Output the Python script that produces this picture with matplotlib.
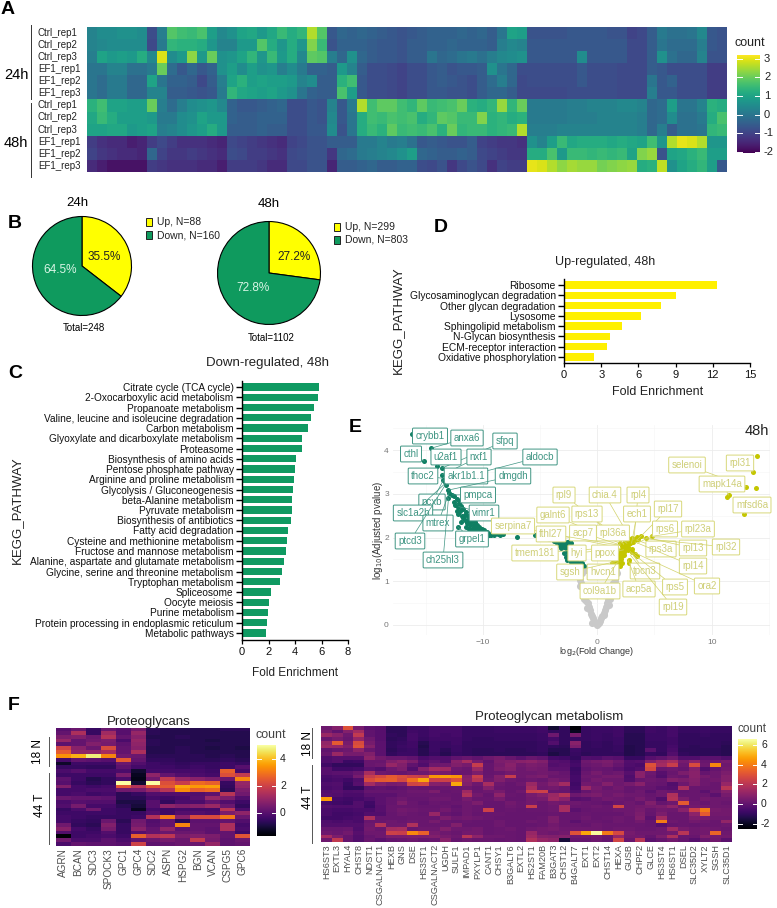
import numpy as np
import matplotlib
matplotlib.use('Agg')
import matplotlib.pyplot as plt
from matplotlib.patches import Rectangle

plt.rcParams['font.family'] = ['Liberation Sans', 'DejaVu Sans']
W, H = 777, 908

# ---------- Panel A ----------
sample_labels = ['Ctrl_rep1', 'Ctrl_rep2', 'Ctrl_rep3', 'EF1_rep1', 'EF1_rep2', 'EF1_rep3',
                 'Ctrl_rep1', 'Ctrl_rep2', 'Ctrl_rep3', 'EF1_rep1', 'EF1_rep2', 'EF1_rep3']
heat_a = [
 [.3,.5,.5,.6,.6,.5,-.8,.2,1.8,1.6,1.5,1.7,.9,.4,.6,1.0,1.1,.8,1.1,1.5,1.2,1.4,2.6,1.8,-.6,-.3,-.4,-.3,-.4,-.5,-.6,-.7,
  -.6,-.5,-.4,-.4,-.4,-.3,-.4,-.3,-.5,0,1.0,.9,-.7,-.7,-.7,-.7,-.6,-.6,-.6,-.6,-.7,-.7,-1.0,-.9,-.5,.1,-.1,-.1,0,.4,-.6,-.7],
 [.3,.4,.5,.5,.5,.5,-.9,.1,1.4,1.3,1.3,1.2,.7,.3,.3,.8,.8,1.8,1.2,.7,1.2,.7,2.2,1.5,-.7,-.4,-.4,-.4,-.5,-.6,-.6,-.7,
  -.5,-.5,-.4,-.4,-.3,-.4,-.4,-.4,-.5,.2,.4,.3,-.6,-.6,-.6,-.6,-.6,-.6,-.6,-.6,-.6,-.6,-.9,-.9,-.5,0,-.2,-.2,-.2,.2,-.6,-.7],
 [.2,1.0,.8,.9,.8,1.2,.4,2.9,.5,.8,2.3,.8,2.0,.6,.7,1.0,1.4,.7,1.5,.8,1.2,.4,1.9,1.8,.2,-.3,.6,-.3,-.5,-.6,-.6,-.7,
  -.5,-.5,0,-.3,-.2,0,.1,-.1,.2,.4,.5,.6,-.6,-.6,-.6,-.6,-.6,.5,-.6,-.6,-.6,-.6,-.9,-.9,-.5,.6,-.1,-.3,-.3,.3,-.7,-.7],
 [0,0,.3,.3,-.1,-.1,.1,2.0,-.2,-.6,-.3,-.6,-.4,.6,.9,.5,.9,.6,.7,.2,.5,.1,-.4,-.4,-.5,.8,.3,-.5,-.8,-.8,-.9,-1.0,
  -.8,-.8,-.6,-.5,-.7,-.6,-.6,-.5,.6,0,-.3,-.8,-.8,-.8,-.8,-.8,-.8,-.6,-.8,-.8,-.8,-.9,-.9,-.9,-.5,-.6,-.8,-.8,-.8,-.8,-1.1,-1.1],
 [0,-.2,.1,.1,-.3,-.3,1.0,0,-.4,-.4,-.5,-.9,-.5,.2,1.0,1.3,.9,1.0,.9,.9,.8,.3,.5,-.5,-.5,1.3,1.6,-.6,-.8,-.8,-.9,-1.0,
  -.8,-.8,-.6,-.5,-.6,-.7,-.8,-.5,-.2,.2,-.3,-.9,-.8,-.8,-.8,-.8,-.8,-.6,-.8,-.8,-.8,-.9,-.9,-.9,0,-.6,-.4,-.8,-.8,-.8,-1.1,-1.1],
 [0,-.2,.1,.1,-.3,-.3,.3,.3,-.5,-.5,-.6,-.7,-.6,.1,1.4,1.1,1.0,.9,1.0,.8,.6,0,-.4,-.5,-.5,1.7,.9,-.6,-.8,-.8,-.9,-1.0,
  -.8,-.8,-.6,-.6,-.7,-.7,-.8,-.5,-.3,-.3,-.5,-.9,-.9,-.9,-.9,-.9,-.8,-.8,-.8,-.8,-.8,-.9,-.9,-.9,.2,-.6,-.6,-.8,-.8,-.8,-1.1,-1.1],
 [1.3,1.6,1.0,1.0,.9,.9,2.0,.2,-.2,.2,.5,.6,.7,.4,-.4,-.6,-.6,-.5,-.4,-.3,-.8,-.8,-.6,-.7,.3,-.6,.1,2.6,1.6,1.9,1.9,1.6,
  1.4,1.9,1.5,1.6,1.7,2.0,1.3,1.2,1.4,2.4,1.4,2.0,.1,.1,.1,.1,.2,.2,.3,.3,.3,.4,.4,.3,-.3,-.2,.9,0,0,.3,1.3,1.2],
 [1.1,1.5,1.2,.9,.9,.9,.8,.1,.1,.5,.6,1.0,.8,.8,-.4,-.5,-.5,-.4,-.4,-.4,-.8,-.8,-.6,-.7,.4,-.6,0,1.2,1.6,1.5,1.7,1.6,
  1.7,1.2,1.4,1.9,1.8,1.5,1.5,2.2,1.3,1.4,1.2,1.3,.1,.1,.1,.1,.2,.2,.2,.3,.3,.3,.3,.2,-.3,-.2,.5,-.1,-.1,.1,1.2,1.7],
 [1.0,1.0,1.1,1.1,.8,.9,1.0,.2,.3,.5,.7,.9,1.2,.8,-.5,-.5,-.5,-.4,-.5,-.5,-.8,-.8,-.6,-.6,.5,-.7,0,1.2,1.5,1.3,1.9,1.5,
  1.6,1.5,1.7,1.3,2.0,1.4,1.5,1.5,1.3,1.4,1.5,2.6,.2,.2,.2,.3,.3,.3,.3,.3,.3,.3,.3,.2,-.3,.2,-.5,-.1,-.1,0,1.4,1.5],
 [-1.1,-1.3,-1.4,-1.4,-1.6,-1.5,-1.1,-.9,-1.1,-1.3,-1.3,-1.3,-1.4,-1.5,-.9,-1.0,-1.1,-1.2,-1.3,-1.4,-1.0,-.9,-.7,-.7,-.5,-.5,-.5,.1,.1,.3,.1,.2,
  -.1,-.6,-.5,-.6,-.7,-.7,-.5,-1.0,-1.1,-1.2,-1.2,-1.3,.6,.3,.9,1.5,1.1,1.2,1.2,1.2,1.1,1.2,1.1,1.0,1.6,.7,2.6,3.0,2.9,2.6,.7,.7],
 [-1.0,-1.2,-1.3,-1.4,-1.4,-1.5,-.3,-1.0,-1.2,-1.2,-1.1,-1.2,-1.3,-1.4,-.8,-.9,-1.1,-1.1,-1.2,-1.3,-.9,-.8,-.7,-.7,-1.2,-.3,-.2,.1,.2,.3,.4,.6,
  .9,-.3,-.4,-.5,-.5,-.4,-.5,-.9,-1.0,-1.1,-1.2,-1.2,1.2,1.2,1.7,.8,1.5,1.5,1.4,1.5,1.4,1.5,1.0,2.2,2.4,-.7,1.0,1.1,1.3,1.5,.9,.9],
 [-1.4,-1.6,-1.8,-1.8,-1.8,-1.8,-1.1,-1.2,-1.3,-1.3,-1.3,-1.4,-1.4,-1.6,-1.1,-1.1,-1.1,-1.2,-1.4,-1.4,-.9,-.9,-.7,-.7,-1.5,-.5,-.5,-.4,-.3,-.5,-.5,-.4,
  -.4,-.8,-.9,-.7,-1.2,-.9,-.7,-.9,-1.3,-1.0,-1.1,-1.1,3.0,2.9,2.6,2.3,2.5,2.4,2.4,2.1,2.2,2.3,2.4,1.2,1.3,2.7,.6,1.0,1.2,1.4,.9,-.6],
]

# ---------- Panel B ----------
pie_24h = [88, 160]
pie_48h = [299, 803]
pie_24h_labels = ['35.5%', '64.5%']
pie_48h_labels = ['27.2%', '72.8%']

# ---------- Panel C ----------
down_pathways = ['Citrate cycle (TCA cycle)', '2-Oxocarboxylic acid metabolism', 'Propanoate metabolism',
    'Valine, leucine and isoleucine degradation', 'Carbon metabolism', 'Glyoxylate and dicarboxylate metabolism',
    'Proteasome', 'Biosynthesis of amino acids', 'Pentose phosphate pathway', 'Arginine and proline metabolism',
    'Glycolysis / Gluconeogenesis', 'beta-Alanine metabolism', 'Pyruvate metabolism', 'Biosynthesis of antibiotics',
    'Fatty acid degradation', 'Cysteine and methionine metabolism', 'Fructose and mannose metabolism',
    'Alanine, aspartate and glutamate metabolism', 'Glycine, serine and threonine metabolism', 'Tryptophan metabolism',
    'Spliceosome', 'Oocyte meiosis', 'Purine metabolism', 'Protein processing in endoplasmic reticulum', 'Metabolic pathways']
down_fold = [5.8, 5.7, 5.4, 5.2, 5.0, 4.5, 4.5, 4.1, 4.0, 3.9, 3.85, 3.8, 3.75, 3.7, 3.5, 3.4, 3.3, 3.15, 3.0, 2.9,
             2.2, 2.0, 1.95, 1.9, 1.8]

# ---------- Panel D ----------
up_pathways = ['Ribosome', 'Glycosaminoglycan degradation', 'Other glycan degradation', 'Lysosome',
               'Sphingolipid metabolism', 'N-Glycan biosynthesis', 'ECM-receptor interaction', 'Oxidative phosphorylation']
up_fold = [12.3, 9.0, 7.8, 6.2, 4.7, 3.7, 3.5, 2.4]

# ---------- Panel E ----------
grey_lfc = [0,-.25,-.45,-.65,-.85,-1.05,-1.2,-1.4,-1.6,-1.8,-1.3,-1.0,-.5,-.9,-1.15,-1.5,
            .25,.45,.65,.85,1.05,1.2,1.35,1.5,1.2,1.7,.6,1.0,1.1,1.45,
            -1.7,-1.5,-1.25,-1.1,-.95,-.75,-.55,-.35,-.15,.15,.35,.55,.75,.95,1.15,1.3,1.55,1.6,-1.55,-1.2]
grey_p = [0,.1,.2,.35,.5,.65,.8,.95,1.1,1.25,1.2,1.25,.05,.38,.6,.9,
          .1,.2,.35,.5,.65,.8,.95,1.1,1.3,1.2,.22,.45,.6,.85,
          1.15,1.02,.88,.72,.55,.42,.25,.15,.05,.05,.15,.28,.42,.58,.75,.9,1.0,1.25,1.3,1.3]
down_lfc = [-16.2,-14.5,-15.1,-14.0,-13.6,-13.55,-13.45,-13.3,-13.25,-13.0,-12.95,-12.65,-13.0,-12.2,-7.0,-5.4,
            -12.5,-12.3,-12.1,-12.4,-11.9,-12.0,-11.7,-11.5,-11.8,-11.3,-11.6,-11.1,-11.4,-10.9,-11.1,-10.7,-10.9,-10.5,
            -10.7,-10.3,-10.5,-10.1,-10.2,-9.9,-9.9,-9.6,-9.5,-9.2,-9.0,-8.7,-8.5,-8.2,-11.2,-10.8,-10.4,-12.2,-11.6,
            -11.5,-11.2,-11.0,-10.8,-10.6,-10.4,-11.3,-11.0,-10.6,-10.2,-10.0,-9.7,-9.3,-12.0,-12.25,-11.7,-12.5,-12.2,-11.9,
            -4.2,-3.8,-3.35,-2.6,-2.3,-3.05,-2.77,-2.62,-3.2,-2.9,-2.77,-2.62,-2.33,-1.75,-1.31,-1.16,-2.0,-1.5,-3.5,-3.0,-2.8,-2.5,-2.9,
            -3.6,-3.2,-2.4,-2.7,-3.3,-2.5,-2.4,-2.1,-1.9,-1.6,-1.3,-2.2,-2.6]
down_p = [4.37,4.05,3.75,3.64,3.59,3.44,3.32,3.28,3.2,3.09,3.02,2.98,2.9,2.25,2.02,2.05,
          2.95,2.88,2.8,2.75,2.72,2.62,2.65,2.58,2.5,2.5,2.4,2.45,2.33,2.4,2.28,2.35,2.22,2.3,
          2.18,2.25,2.13,2.2,2.1,2.17,2.08,2.14,2.07,2.1,2.05,2.08,2.06,2.08,2.38,2.3,2.2,2.7,2.52,
          2.25,2.2,2.15,2.1,2.12,2.08,2.4,2.35,2.25,2.18,2.12,2.1,2.05,2.85,2.6,2.45,2.82,2.55,2.35,
          1.96,1.93,1.89,1.91,1.87,1.83,1.76,1.68,1.76,1.64,1.56,1.49,1.45,1.45,1.43,1.34,1.45,1.42,1.88,1.9,1.85,1.82,1.78,
          1.92,1.93,1.92,1.88,1.82,1.75,1.55,1.5,1.42,1.38,1.36,1.4,1.55]
up_lfc = [1.3,1.6,1.9,1.5,1.8,2.1,2.0,2.3,2.1,2.4,2.5,2.2,2.7,2.4,2.8,2.6,3.0,3.2,3.5,3.8,2.0,1.75,2.25,2.65,2.9,
          1.4,1.7,2.0,2.2,1.65,1.95,2.2,2.05,2.35,2.3,2.6,2.55,2.85,2.75,3.0,3.3,3.1,3.6,2.45,2.65,
          4.3,4.8,2.77,2.77,3.05,3.3,3.5,3.0,
          13.97,13.6,13.0,13.9,11.5,11.3,12.85]
up_p = [1.42,1.4,1.42,1.5,1.52,1.5,1.62,1.6,1.72,1.72,1.82,1.8,1.85,1.9,1.92,1.98,1.95,1.98,2.02,2.03,1.88,1.55,1.68,1.78,1.88,
        1.36,1.35,1.36,1.42,1.46,1.55,1.58,1.68,1.66,1.78,1.78,1.88,1.88,1.98,2.0,1.95,1.9,1.98,1.98,1.72,
        2.0,2.03,1.49,1.42,1.68,1.62,1.58,1.75,
        3.86,3.5,3.17,3.14,2.97,2.92,2.55]
down_genes = ['crybb1','anxa6','sfpq','cthl','u2af1','nxf1','aldocb','thoc2','akr1b1.1','dmgdh','pmpca','pcxb',
              'slc1a2b','vimr1','mtrex','ptcd3','grpel1','ch25hl3']
down_gene_lfc = [-16.2,-14.5,-13.6,-15.1,-14.0,-13.55,-13.3,-13.5,-13.25,-13.0,-12.65,-13.45,-13.25,-12.1,-12.95,-13.3,-12.2,-13.0]
down_gene_p = [4.37,4.05,3.59,3.75,3.64,3.44,3.28,3.36,3.2,3.09,2.98,3.32,3.25,2.71,3.02,3.2,2.25,2.9]
up_genes = ['selenoi','rpl31','mapk14a','mfsd6a','rpl9','chia.4','rpl4','rpl17','galnt6','rps13','ech1','serpina7',
            'rps6','rpl23a','rpl36a','acp7','fthl27','rps3a','rpl13','rpl32','tmem181','hyi','ppox','rpl14','hvcn1',
            'sgsh','tpcn3','ora2','acp5a','rps5','col9a1b','rpl19']
up_gene_lfc = [13.0,13.6,11.5,12.85,2.04,2.8,3.2,3.5,2.0,2.2,3.0,1.75,3.5,4.8,2.6,2.05,1.9,3.4,4.3,4.0,1.9,2.0,2.3,3.3,1.9,
               1.6,2.9,3.3,2.7,3.05,1.7,2.9]
up_gene_p = [3.17,3.5,2.97,2.55,1.95,2.02,1.95,1.95,1.87,1.87,1.87,1.78,1.87,2.03,1.87,1.83,1.83,1.95,2.0,1.98,1.78,1.75,1.72,1.9,1.45,
             1.45,1.68,1.65,1.49,1.65,1.42,1.6]

# label box centres in figure pixels (layout only)
down_label_px = [(430,436),(467,438),(505,441),(411,454),(446,457),(479,457),(540,457),(423,476),(466,476),(513,476),
                 (478,495),(432,502),(413,513),(484,513),(438,523),(410,541),(472,539),(443,560)]
up_label_px = [(687,465),(740,463),(722,484),(752,505),(564,495),(605,495),(638,495),(668,509),(553,515),(587,514),(637,514),
               (513,526),(665,529),(698,529),(613,533),(583,533),(551,534),(661,549),(693,548),(726,547),(535,553),(577,553),
               (605,553),(693,566),(603,572),(570,572),(645,571),(707,586),(639,589),(675,587),(600,591),(673,607)]

# ---------- Panel F ----------
proteoglycan_genes = ['AGRN','BCAN','SDC3','SPOCK3','GPC1','GPC4','SDC2','ASPN','HSPG2','BGN','VCAN','CSPG5','GPC6']
heat_f1 = [
 [0,.3,-.5,.3,0,.5,-.7,-.8,-.8,-.8,-.8,-.7,-.7],
 [.2,1.4,-.5,1.2,0,1.0,-.7,-.8,-.8,-.8,-.8,-.8,-.8],
 [.6,.7,.3,1.5,.2,.8,-.8,-.8,-.7,-.8,-.8,-.8,-.8],
 [1.0,.2,.4,.6,-.2,1.0,-.7,-.8,-.8,-.8,-.9,-.8,-.8],
 [.1,.2,.7,.5,.1,.9,-.7,-.8,-.8,-.8,-.8,-.8,-.8],
 [2.0,.8,.3,2.2,.2,.8,-.8,-.8,-.7,-.8,-.9,-.8,-.9],
 [2.5,.9,.9,1.3,.2,1.4,-.8,-.8,-.7,-.8,-.8,-.8,-.8],
 [3.4,3.8,4.7,3.2,.4,.3,-.7,-.7,-.7,-.7,-.8,-.7,-.8],
 [-.3,.2,.1,0,2.5,.2,-.6,-.6,-.7,-.7,-.7,-.6,-.7],
 [-1.2,-.4,-.4,-.4,.3,-.1,-.4,-.5,-.6,-.5,-.5,-.4,-.5],
 [-.5,-.5,-.6,-.6,.1,-.3,-.4,-.4,-.5,-.4,-.5,-.4,0],
 [-.2,0,-.3,-.3,-.2,-1.1,-.3,-.3,-.3,-.3,-.4,2.6,-.3],
 [-.4,-.4,-.4,-.4,.6,-1.3,.9,.2,-.1,-.2,-.3,2.3,1.8],
 [.1,-.4,-.8,-.6,-.2,-1.4,.4,1.8,1.0,.8,.6,.3,3.2],
 [0,-.5,-.7,-.6,5,-1.1,5,2.3,1.9,2.8,2.6,-.5,1.0],
 [.7,-.3,-.4,-.3,2.4,1.5,2.4,2.5,3.7,3.5,3.6,-.6,.9],
 [-.3,-.3,-.2,-.2,.4,.5,1.0,1.6,3.3,2.6,2.8,-.7,.6],
 [-.3,-.2,-.4,-.3,-.7,-.5,-.1,-.1,-.1,-.1,.1,1.6,.4],
 [.3,.2,.2,.1,-.7,-.7,-.3,-.4,-.3,0,1.0,.6,-.1],
 [-.2,0,-.1,-.1,-.9,-.9,0,-.6,-.2,-.2,.2,-.1,-.4],
 [-.1,.5,-.3,-.3,-.7,-1.0,0,.9,.7,.8,1.1,.3,-.6],
 [-.5,-.2,.4,-.4,-.5,-1.3,-.3,-.4,-.3,-.3,-.3,1.6,-.2],
 [-.4,-.4,-.4,-.4,-.5,-.5,-.1,-.4,-.1,-.1,-.2,.6,.9],
 [-.3,-.4,-.5,-.5,-.5,-.4,1.5,3.0,.8,2.2,2.2,3.0,.3],
 [-.3,-.5,-.6,.3,-.7,.4,-.1,.2,-.7,.1,.1,.2,-.1],
 [.4,-.6,-.7,.7,-.5,.5,0,.2,3.2,.2,.2,1.4,-.3],
 [.8,-.3,-.5,.5,-.5,.8,.2,.9,.1,.2,.1,1.4,-.2],
 [-.1,-.4,-.4,-.1,-.5,0,.2,.3,.3,.3,.1,.2,-.4],
 [-1.6,-.4,-.3,-.2,-.4,2.6,1.5,1.7,.6,.7,.6,.2,2.4],
 [.4,-.2,-.2,.1,-.2,.2,.3,.5,.3,1.8,.5,.1,.3],
 [-.2,.2,.1,.1,0,2.0,.1,.2,.3,.3,1.0,.1,.2],
]
metabolism_genes = ['HS6ST3','EXTL3','HYAL4','CHST8','NDST1','CSGALNACT1','HEXB','GNS','DSE','HS3ST1','CSGALNACT2','UGDH',
    'SULF1','IMPAD1','PXYLP1','CANT1','CHSY1','B3GALT6','EXTL2','HS2ST1','FAM20B','B3GAT3','CHST12','B4GALT7','EXT1','EXT2',
    'CHST14','HEXA','GUSB','CHPF2','GLCE','HS3ST4','HS6ST1','DSEL','SLC35D2','XYLT2','SGSH','SLC35D1']
heat_f2 = [
 [.3,.8,3.0,.5,-.1,-.2,-1.1,-1.1,-.8,-.8,-.6,-.6,-.6,-.9,-.9,-.9,-.8,-.8,-.8, -.8,-.7,-1.7,-1,-2.4,-.9,-.8,-.8,-.7,-1.1,-1.1,-.7,-.8,-.6,-.9,-.9,-.8,-.9,-.9],
 [.5,0,.8,1.5,0,-.2,-1.1,-1.1,-.7,-.8,-.6,-.6,-.6,-.9,-.9,-.9,-.8,-.8,-.8, -.8,-.7,-1.0,-1,-2.0,-.9,-.8,-.8,-.7,-1.1,-1.1,-.7,-.8,-.6,-.9,-.9,-.8,-.9,-.9],
 [1.3,.9,.3,2.2,0,-.2,-1.0,-1.1,-.6,-.8,-.6,-.7,-.6,-.9,-.9,-.9,-.9,-.9,-.9, -.9,-.8,.3,-1,.5,-.9,-.8,-.9,-.7,-1.2,-1.2,-.8,-.8,-.6,-1,-1,-.9,-1,-1],
 [.2,.5,.2,1.2,.3,-.2,-1.1,-1.0,-.6,-.9,-.7,-.7,-.7,-.9,-1,-1,-.9,-.9,-.9, -.9,-.8,-.6,-1,-.9,-.9,-.8,-.9,-.8,-1.2,-1.2,-.8,-.8,-.7,-1,-1,-1,-1,-1],
 [1.1,3.2,.5,2.8,.5,-.1,-1.0,-.9,-.7,-1.2,-.8,-.9,-.7,-1,-1,-1,-1,-1,-1, -1,-.9,-.3,-1,.9,-1,-.9,-1,-.8,-1.2,-1.2,-.9,-.9,-.7,-1,-1,-1,-1,-1.1],
 [1.3,1.2,.7,3.0,.8,-.1,-1,-.8,-.7,-1.3,-.8,-.9,-.8,-1,-1,-1,-1,-1,-1, -1,-.9,-1,-1.1,.6,-1,-.9,-1,-.9,-1.3,-1.2,-.9,-.9,-.6,-1,-1.1,-1,-1,-1.2],
 [0,.2,.3,1,.2,-.1,-1.1,-.9,-.8,-1.2,-.8,-1.1,-.8,-1,-1.1,-1.1,-1,-1.1,-1.1, -1,-.9,-1.2,-1.2,-.8,-1,-1,-1,-.9,-1.3,-1.2,-.1,-.9,-.5,-1.1,-1.1,-1.1,-1.1,-1.2],
 [.2,1.3,.5,.5,.7,-.1,-1,-.8,-.8,-1.2,-.9,-1.2,-.9,-1,-1.1,-1.1,-1.1,-1.1,-1.1, -1.1,-1,-1.4,-1.2,-.9,-1.1,-1,-1,-1,-1.3,-1.2,-.9,-1,-.3,-1,-1.1,-1.1,-1.1,-1.2],
 [-.4,-.2,-.2,-.2,1.0,.4,.2,.2,0,-.5,-.3,-.3,0,.2,0,.3,.5,.2,-.1, .2,0,-.6,-.7,-1,-.3,-.4,-.1,-.2,-.9,-.9,-.2,0,.3,-.3,-.3,-.1,-.1,-.3],
 [-.4,-.2,-.8,-.7,.2,.2,.7,1.0,.6,-.2,0,-.3,.9,1.6,.5,0,.6,.7,.9, 1.0,.7,-.2,-.3,-.7,.3,.5,.6,.3,-.3,-.2,.8,1.3,1.6,.5,1,.2,.3,.5],
 [-.7,-1,-1,-1,.2,.3,1.2,.7,0,-.4,.3,.3,.7,.5,2.3,.1,.5,.9,.4, .6,.5,-.3,-.2,-.6,.2,.3,.5,.1,-.4,-.5,3.0,1.5,2.4,.3,2.8,.3,4.2,.3],
 [-.2,-.7,-.7,-.6,-.1,-.3,.3,.6,-.3,.8,1.5,1.4,.3,.2,1.3,.1,.6,.8,.3, .5,.4,-.1,-.1,-.8,0,.2,.1,-.1,-.5,-.3,2.7,.2,.3,.1,.8,-.3,.1,.4],
 [-.2,-.1,-.1,.2,1.6,.3,.2,.1,.3,.3,.6,.5,.2,.2,.6,.1,.2,.4,.3, .3,.4,.3,.1,-.7,.2,.5,.2,.3,-.2,.9,.3,-.2,.2,.6,.9,.1,.3,.6],
 [-.5,-.4,-.3,.5,2.3,2.7,3.2,2.9,2.5,2.3,4.5,4.7,4.5,.8,2.4,.2,.8,2.3,.3, .5,.6,.2,.2,-.6,.3,.3,.5,.5,-.4,.9,.2,-.3,.3,.2,.9,.5,.3,.8],
 [-.6,-.5,-.7,-.3,2.8,3.2,3.3,2.7,3.7,4.8,2.4,2.5,3.0,.9,2.0,.3,.7,.3,.2, .3,.2,.5,.3,-.6,.2,.5,.3,.3,-.3,.2,.3,.2,.8,.6,.8,.3,.4,.8],
 [-.4,-.3,-.9,-.2,1.5,.8,.5,.6,2.6,2.7,.8,.7,4.8,.7,.3,1.6,.3,.1,.3, 1.3,.4,.8,1.5,-.7,.4,.3,.8,.3,.5,.9,.2,.1,-.3,.3,.7,.3,.2,1.2],
 [-.5,-.4,-1.0,-1.0,-.1,0,-.1,0,.2,.1,.1,.2,.2,.3,.1,.8,.2,.1,.1, 1.6,.3,.4,.2,-.6,1.3,.5,.2,.4,.1,.2,.1,-.1,-.2,1.7,.2,.2,.2,2.0],
 [-.3,-.2,-.4,-.3,.1,.1,.1,.1,.3,.3,.6,.1,.2,1.4,.2,.3,.5,.1,.3, 2.4,2.5,.2,.1,-.4,.1,.4,.3,.3,.1,.3,-.1,.3,.2,.1,.2,-.1,.3,.8],
 [-.2,-.3,-.5,-.5,-.1,-.1,-.1,.1,.2,.2,.2,.2,.1,1.8,.4,.1,1.0,.2,.1, .5,.8,1.3,1.9,.3,.5,.6,.3,.5,.3,.3,.1,.3,1.8,.2,.2,.2,-.1,.5],
 [4.6,-.6,-.7,-.6,-.4,-.1,.1,.3,.1,.1,.3,.3,.1,.5,.2,.2,.5,.1,.1, .4,.5,1.4,.9,-.2,-.1,.2,.4,.3,.2,.5,.2,-.3,1.9,.6,.2,.4,.3,.3],
 [-.6,-.7,-.8,-.3,-.7,-.1,.1,.6,.2,0,.2,.1,.2,.3,.6,.1,.1,.4,.2, .4,.2,.4,.3,.3,.2,.1,0,.2,.3,.1,.7,.1,.3,3.2,.3,.2,.3,.2],
 [-.3,-.4,-.4,-.3,-.8,-.2,.2,.2,.2,.1,.1,.2,0,.3,.2,.1,.1,.3,.2, 2.4,.2,.3,1.6,.2,.2,.3,.2,2.6,.3,.4,.5,.6,1.0,.3,.4,.4,.3,.3],
 [-.5,-.6,-.6,-.5,-.5,-.2,.2,.4,.3,.2,.2,.4,.1,.3,.2,2.5,.1,.2,.1, .2,.2,.3,1.6,-.1,.1,.2,.2,.3,.3,.5,.2,.4,.3,.9,2.5,3.9,.5,.4],
 [-.5,-.7,-.7,-.6,-.3,-.3,.1,.3,.2,.1,1.2,.1,0,.3,.1,.2,.2,.1,.1, .1,.1,.2,.1,.1,.2,.1,.1,.1,.3,.6,.1,.6,.2,.2,1.0,3.2,.4,.4],
 [-.7,-.7,-.6,-.5,1.7,.1,.1,.1,.2,.2,.2,.6,.3,.4,.3,.2,.1,.1,.1, .1,.2,.6,.1,.1,.3,.1,.2,.3,.2,.7,-.1,1.5,.2,.2,.6,.5,.3,.3],
 [-.4,-.5,-.4,-.5,.2,.2,.3,.2,.3,.2,.5,.2,.1,.2,.1,.1,.3,.1,.1, .3,.2,.6,.2,-.1,.2,.2,.1,.3,.2,.4,.1,4.0,.3,.2,.4,.3,.2,1.1],
 [-.3,-.3,-.3,-.3,.3,1.9,.3,.3,1.8,.2,.2,.2,.7,.1,.1,.1,.3,.1,.1, .1,.2,.4,.2,.2,.1,.3,.2,.2,.2,.2,.1,-.2,.1,.2,.1,.2,.2,.3],
 [.1,.1,.2,-.4,.4,.2,1.5,1.6,.2,.3,.3,.7,.3,.3,.4,.1,.2,.3,.1, .3,.4,.5,.3,.3,.3,.3,.2,.3,.3,.2,.2,.3,1.4,.5,.3,.4,.3,.2],
 [.3,.2,.4,-.2,.3,.3,2.5,2.4,4.2,3.4,.5,.3,.2,.4,.4,.1,.2,.2,.1, 1.2,.4,.3,.4,3.0,4.8,6.5,3.9,2.7,.5,.3,.3,.3,.4,2.0,.3,.4,3.5,.3],
 [1.5,.6,.1,-.3,.1,.3,.6,.6,.6,.6,.7,.5,.3,2.0,1.0,.3,.3,.2,.1, 1.4,.8,.7,.8,.3,.3,.4,.2,1.2,.4,.4,.1,.6,1.7,.2,.2,.7,.5,.4],
 [.3,2.2,.1,-.3,.2,-.1,.1,.2,.3,.1,.2,.9,.1,.3,.2,.2,.1,.2,.1, 1.8,1.2,1.0,-1.6,.1,.1,.3,.1,2.6,.2,2.0,-.1,.1,.4,.1,-.2,.2,.4,-.1],
]

fig = plt.figure(figsize=(W / 100, H / 100), dpi=100, facecolor='white')

def px_axes(x0, y0, x1, y1, **kw):
    return fig.add_axes([x0 / W, 1 - y1 / H, (x1 - x0) / W, (y1 - y0) / H], **kw)

page = px_axes(0, 0, W, H, zorder=10)
page.set_xlim(0, W); page.set_ylim(H, 0); page.axis('off')

def T(x, y, s, size=8, ha='center', va='center', **kw):
    page.text(x, y, s, fontsize=size, ha=ha, va=va, **kw)

def colorbar(x0, y0, x1, y1, vmin, vmax, cmap, ticks, labelsize=8):
    cax = px_axes(x0, y0, x1, y1)
    grad = np.linspace(vmax, vmin, 256)[:, None]
    cax.imshow(grad, aspect='auto', cmap=cmap, vmin=vmin, vmax=vmax, extent=[0, 1, vmin, vmax])
    cax.set_xticks([]); cax.set_yticks([])
    for s in cax.spines.values():
        s.set_visible(False)
    for t in ticks:
        cax.plot([0, .2], [t, t], color='white', lw=.7)
        cax.plot([.8, 1], [t, t], color='white', lw=.7)
        page.text(x1 + 4, y1 - (t - vmin) / (vmax - vmin) * (y1 - y0), str(t), fontsize=labelsize,
                  va='center', ha='left', color='#222222')
    cax.set_xlim(0, 1); cax.set_ylim(vmin, vmax)

# ---- A ----
ax = px_axes(87, 27, 727, 172)
ax.imshow(np.array(heat_a), aspect='auto', cmap='viridis', vmin=-2.05, vmax=3.2, interpolation='nearest')
ax.axis('off')
for i, lab in enumerate(sample_labels):
    T(38, 33 + i * 12.07, lab, 7, ha='left', color='#222222')
page.plot([31, 31], [25, 99], color='#333333', lw=.7)
page.plot([31, 31], [103, 177], color='#333333', lw=.7)
T(16, 75, '24h', 10.5); T(16, 143, '48h', 10.5)
T(750, 43, 'count', 9, color='#222222')
colorbar(737, 55, 760, 153, -2.05, 3.2, 'viridis', [3, 2, 1, 0, -1, -2], 8)
T(8, 9, 'A', 14, fontweight='bold')

# ---- B ----
pie_colors = ['#ffff00', '#0f9a5e']
def draw_pie(cx, cy, r, vals):
    a = px_axes(cx - r, cy - r, cx + r, cy + r)
    a.pie(vals, colors=pie_colors, startangle=90, counterclock=False, radius=.99,
          wedgeprops=dict(edgecolor='black', linewidth=.8))
    a.set_xlim(-1, 1); a.set_ylim(-1, 1)
draw_pie(82, 266, 50, pie_24h)
draw_pie(269, 273, 52, pie_48h)
T(77, 203, '24h', 9.5); T(269, 204, '48h', 9.5)
T(104, 257, pie_24h_labels[0], 8.5, color='#222222'); T(60, 270, pie_24h_labels[1], 8.5, color='#d8f5e5')
T(294, 257, pie_48h_labels[0], 8.5, color='#222222'); T(253, 288, pie_48h_labels[1], 8.5, color='#d8f5e5')
T(84, 328, 'Total=248', 7); T(271, 338, 'Total=1102', 7)
for (x, y1, y2, t1, t2) in [(149, 222, 235, 'Up, N=88', 'Down, N=160'), (337, 227, 240, 'Up, N=299', 'Down, N=803')]:
    page.add_patch(Rectangle((x - 3, y1 - 4), 6, 8, fc='#ffff00', ec='#222222', lw=.7))
    page.add_patch(Rectangle((x - 3, y2 - 4), 6, 8, fc='#0f9a5e', ec='#222222', lw=.7))
    T(x + 8, y1, t1, 7.5, ha='left', color='#222222')
    T(x + 8, y2, t2, 7.5, ha='left', color='#222222')
T(15, 223, 'B', 14, fontweight='bold')

# ---- C ----
def bars(x0, x1, ytop, ybot, axis_y, xmax, xticks, names, vals, color, fs, gap):
    n = len(vals)
    step = (ybot - ytop) / (n - 1)
    a = px_axes(x0, ytop - gap, x1, axis_y)
    a.barh(range(n), vals, height=.72, color=color)
    a.set_ylim(n - 1 + (axis_y - ybot) / step, -gap / step)
    a.set_xlim(0, xmax)
    a.set_yticks(range(n)); a.set_yticklabels(names, fontsize=fs, color='#111111')
    a.set_xticks(xticks); a.set_xticklabels([str(t) for t in xticks], fontsize=8, color='#111111')
    a.tick_params(axis='y', length=4, width=1, pad=2)
    a.tick_params(axis='x', length=3, width=.9, pad=2)
    a.spines[['top', 'right']].set_visible(False)
    a.spines[['left', 'bottom']].set_linewidth(1)
    a.patch.set_alpha(0)
bars(242, 348, 387, 633, 640, 8, [0, 2, 4, 6, 8], down_pathways, down_fold, '#0f9a62', 7.3, 6)
T(268, 363, 'Down-regulated, 48h', 9.5, color='#222222')
T(295, 673, 'Fold Enrichment', 8.5, color='#222222')
T(17, 510, 'KEGG_PATHWAY', 9.5, rotation=90, color='#222222')
T(15, 373, 'C', 14, fontweight='bold')

# ---- D ----
bars(564, 750, 285, 357, 363, 15, [0, 3, 6, 9, 12, 15], up_pathways, up_fold, '#fff000', 7.4, 6)
T(605, 262, 'Up-regulated, 48h', 9, color='#222222')
T(658, 392, 'Fold Enrichment', 9, color='#222222')
T(398, 320, 'KEGG_PATHWAY', 9.5, rotation=90, color='#222222')
T(441, 227, 'D', 14, fontweight='bold')

# ---- E ----
ex = px_axes(393, 425, 770, 635)
ex.set_xlim(-17.85, 15.1); ex.set_ylim(-.23, 4.58)
ex.set_xticks([-10, 0, 10]); ex.set_yticks([0, 1, 2, 3, 4])
ex.set_xticks([-15, -5, 5, 15], minor=True); ex.set_yticks([.5, 1.5, 2.5, 3.5, 4.5], minor=True)
ex.grid(which='major', color='#ececec', lw=.6); ex.grid(which='minor', color='#f5f5f5', lw=.4)
ex.set_axisbelow(True)
ex.tick_params(which='both', length=0, labelsize=6, labelcolor='#777777', pad=3)
for s in ex.spines.values():
    s.set_visible(False)
ex.patch.set_alpha(0)
GREEN, OLIVE = '#0f7f63', '#c4c600'
ex.scatter(grey_lfc, grey_p, s=26, color='#c9c9c9', lw=0)
ex.scatter(down_lfc, down_p, s=13, color=GREEN, lw=0)
ex.scatter(up_lfc, up_p, s=13, color=OLIVE, lw=0)

def labels(genes, lfc, p, pos, edge, txt, lc):
    for g, xv, yv, (px, py) in zip(genes, lfc, p, pos):
        ex.annotate(g, xy=(xv, yv), xycoords='data', xytext=(px, H - py), textcoords='figure pixels',
                    fontsize=7, color=txt, ha='center', va='center', annotation_clip=False,
                    bbox=dict(boxstyle='round,pad=0.3,rounding_size=0.1', fc='white', ec=edge, lw=.7),
                    arrowprops=dict(arrowstyle='-', color=lc, lw=.5, shrinkA=0, shrinkB=0))
labels(down_genes, down_gene_lfc, down_gene_p, down_label_px, '#3f9583', '#3f9583', '#3f9583')
labels(up_genes, up_gene_lfc, up_gene_p, up_label_px, '#d8d87a', '#cfcf78', '#d2d26a')
T(757, 431, '48h', 10.5, color='#222222')
T(378, 530, r'log$_{10}$(Adjusted pvalue)', 7, rotation=90, color='#333333')
T(597, 651, r'log$_{2}$(Fold Change)', 6.5, color='#333333')
T(355, 427, 'E', 14, fontweight='bold')

# ---- F ----
def fheat(x0, y0, x1, y1, data, names, vmin, vmax, fs):
    a = px_axes(x0, y0, x1, y1)
    a.imshow(np.array(data), aspect='auto', cmap='inferno', vmin=vmin, vmax=vmax, interpolation='nearest')
    a.set_yticks([])
    a.set_xticks(range(len(names)))
    a.set_xticklabels(names, rotation=90, fontsize=fs, color='#4d4d4d')
    a.tick_params(length=0, pad=1.5)
    for s in a.spines.values():
        s.set_visible(False)

fheat(56, 728, 250, 846, heat_f1, proteoglycan_genes, -1.7, 5.0, 7.2)
T(149, 722, 'Proteoglycans', 9.5, color='#222222')
T(271, 735, 'count', 9, color='#444444')
colorbar(257, 745, 276, 836, -1.7, 5.0, 'inferno', [4, 2, 0], 7.5)
T(38, 752, '18 N', 8.5, rotation=90); T(40, 805, '44 T', 8.5, rotation=90)
page.plot([49, 49], [737, 766], color='#555555', lw=.7)
page.plot([49, 49], [773, 844], color='#555555', lw=.7)
T(14, 706, 'F', 14, fontweight='bold')

fheat(321, 726, 732, 842, heat_f2, metabolism_genes, -2.5, 6.6, 6.6)
T(549, 717, 'Proteoglycan metabolism', 9.5, color='#222222')
T(752, 729, 'count', 8.5, color='#444444')
colorbar(738, 739, 757, 829, -2.5, 6.6, 'inferno', [6, 4, 2, 0, -2], 7.5)
T(308, 744, '18 N', 8.5, rotation=90); T(308, 797, '44 T', 8.5, rotation=90)
page.plot([312, 312], [728, 758], color='#555555', lw=.7)
page.plot([312, 312], [765, 843], color='#555555', lw=.7)

fig.savefig('out.png', dpi=100)
